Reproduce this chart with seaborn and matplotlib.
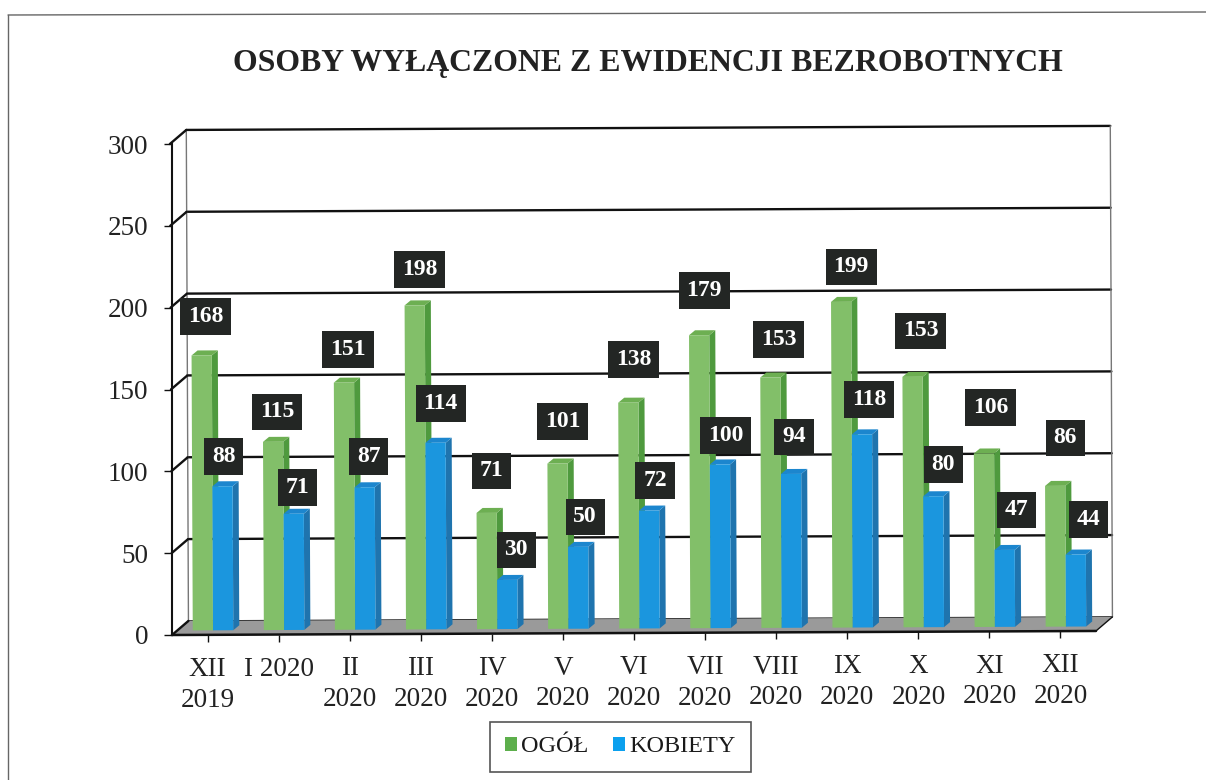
import pandas as pd
import matplotlib.pyplot as plt
import seaborn as sns
from matplotlib.lines import Line2D
from matplotlib.patches import Polygon
from matplotlib.transforms import Affine2D, IdentityTransform

months = ["XII\n2019", "I 2020", "II\n2020", "III\n2020", "IV\n2020", "V\n2020", "VI\n2020",
          "VII\n2020", "VIII\n2020", "IX\n2020", "X\n2020", "XI\n2020", "XII\n2020"]
ogol = [168, 115, 151, 198, 71, 101, 138, 179, 153, 199, 153, 106, 86]
kobiety = [88, 71, 87, 114, 30, 50, 72, 100, 94, 118, 80, 47, 44]
y_ticks = [0, 50, 100, 150, 200, 250, 300]

# where the black value boxes sit relative to the top of their bar, in pixels
ogol_dx = [4, 4, 4, 5, 5, 5, 5, 5, 8, 10, 8, 7, 10]
ogol_dy = [39, 30, 33, 36, 42, 42, 43, 45, 38, 35, 46, 46, 48]
kobiety_dx = [1, 4, 4, 5, 9, 7, 6, 6, 3, 7, 10, 12, 13]
kobiety_dy = [30, 26, 31, 39, 30, 30, 30, 29, 37, 35, 32, 40, 35]

W, H = 1206, 780
GREEN = "#82BF69"
BLUE = "#1B96DE"
faces = {GREEN: ("#6DAF52", "#4F9A3E"), BLUE: ("#1C86CE", "#1F74AE")}

sns.set_theme(style="white")
plt.rcParams["font.family"] = ["Liberation Serif", "DejaVu Serif"]

fig = plt.figure(figsize=(W / 100, H / 100), dpi=100, facecolor="white")
ax = fig.add_axes([172 / W, (H - 635) / H, 924 / W, 491 / H])
ax.patch.set_alpha(0)

df = pd.DataFrame({
    "miesiac": months * 2,
    "liczba": ogol + kobiety,
    "seria": ["OGÓŁ"] * len(months) + ["KOBIETY"] * len(months),
})
sns.barplot(data=df, x="miesiac", y="liczba", hue="seria", palette=[GREEN, BLUE],
            width=0.57, gap=0, saturation=1, linewidth=0, zorder=3, ax=ax)

ax.set_xlim(-0.5, 12.5)
ax.set_ylim(0, 300)
ax.set_yticks(y_ticks)
ax.set_xlabel("")
ax.set_ylabel("")
ax.tick_params(axis="y", length=6, width=1, pad=11, labelsize=19.5, color="#111", labelcolor="#222", left=True)
ax.tick_params(axis="x", length=5, width=1, pad=11, labelsize=19.5, color="#111", labelcolor="#222", bottom=True)
sns.despine(ax=ax, top=True, right=True, bottom=True)
ax.spines["left"].set_linewidth(1.5)
ax.spines["left"].set_color("#111")

# the scanned page is turned slightly, right side up
tilt = Affine2D().rotate_deg_around(172, H - 635, 0.25)
front = ax.transData + tilt
back = ax.transData + Affine2D().translate(16.5, 14) + tilt
bar_tr = ax.transData + Affine2D().translate(5.5, 4.5) + tilt

for tick in ax.xaxis.get_major_ticks():
    tick.tick1line.set_transform(tick.tick1line.get_transform() + tilt)
    tick.label1.set_transform(tick.label1.get_transform() + tilt)
    tick.label1.set_linespacing(1.3)

# floor
corners = [front.transform((-0.5, 0)), front.transform((12.5, 0)),
           back.transform((12.5, 0)), back.transform((-0.5, 0))]
ax.add_patch(Polygon(corners, closed=True, facecolor="#9A9A9A", edgecolor="none",
                     transform=IdentityTransform(), zorder=1.5, clip_on=False))

# back wall and slanted gridlines
for v in y_ticks:
    ax.plot([-0.5, 12.5], [v, v], color="#111", lw=1.7 if v else 1, transform=back, clip_on=False, zorder=1)
    p0, p1 = front.transform((-0.5, v)), back.transform((-0.5, v))
    ax.add_line(Line2D([p0[0], p1[0]], [p0[1], p1[1]], color="#111", lw=1.7,
                       transform=IdentityTransform(), clip_on=False, zorder=2))
for x in [-0.5, 12.5]:
    ax.plot([x, x], [0, 300], color="#777", lw=1, transform=back, clip_on=False, zorder=1)
p0, p1 = front.transform((12.5, 0)), back.transform((12.5, 0))
ax.add_line(Line2D([p0[0], p1[0]], [p0[1], p1[1]], color="#111", lw=1,
                   transform=IdentityTransform(), clip_on=False, zorder=2))
ax.plot([-0.5, 12.5], [0, 0], color="#111", lw=1.8, transform=front, clip_on=False, zorder=2.5)

# 3d faces and value boxes for every bar
bars = list(ax.containers[0]) + list(ax.containers[1])
labels = ogol + kobiety
dxs = ogol_dx + kobiety_dx
dys = ogol_dy + kobiety_dy
for i, (bar, value, dx, dy) in enumerate(zip(bars, labels, dxs, dys)):
    x0, w, h = bar.get_x(), bar.get_width(), bar.get_height()
    color = GREEN if i < len(months) else BLUE
    top_c, side_c = faces[color]
    z = 3 if i < len(months) else 3.2
    bar.set_transform(bar_tr)
    bar.set_zorder(z + 0.05)
    b = bar_tr.transform((x0 + w, 0))
    c = bar_tr.transform((x0 + w, h))
    d = bar_tr.transform((x0, h))
    side = [b, b + (6, 5), c + (6, 5), c]
    top = [d, c, c + (6, 5), d + (6, 5)]
    ax.add_patch(Polygon(side, closed=True, facecolor=side_c, edgecolor="none",
                         transform=IdentityTransform(), zorder=z, clip_on=False))
    ax.add_patch(Polygon(top, closed=True, facecolor=top_c, edgecolor="none",
                         transform=IdentityTransform(), zorder=z, clip_on=False))
    ax.annotate(str(value), xy=(x0 + w / 2, h), xycoords=bar_tr, xytext=(dx, dy),
                textcoords="offset pixels", ha="center", va="center", fontsize=17,
                fontweight="bold", color="white", zorder=5, annotation_clip=False,
                bbox=dict(boxstyle="square,pad=0.33", facecolor="#232624", edgecolor="none"))

sns.move_legend(ax, "center", bbox_to_anchor=(620.5 / W, 1 - 747 / H), bbox_transform=fig.transFigure,
                ncol=2, title=None, frameon=True, fancybox=False, fontsize=17.5, handlelength=0.48,
                handleheight=0.48, handletextpad=0.2, columnspacing=1.0, borderpad=0.6, edgecolor="#555")
leg = ax.get_legend()
leg.get_frame().set_linewidth(1.2)
leg.get_frame().set_alpha(1)
leg.set_zorder(6)
for handle, c in zip(leg.get_patches(), ["#5DAF4C", "#0BA0EE"]):
    handle.set_facecolor(c)
for t in leg.get_texts():
    t.set_color("#1a1a1a")

fig.text(647.5 / W, 1 - 63 / H, "OSOBY WYŁĄCZONE Z EWIDENCJI BEZROBOTNYCH", ha="center", va="center",
         fontsize=22.9, fontweight="bold", color="#222")

# page frame from the scan
fig.add_artist(Line2D([8 / W, 8 / W], [0, 1 - 15 / H], color="#666", lw=1))
fig.add_artist(Line2D([8 / W, 1], [1 - 15 / H, 1 - 12 / H], color="#666", lw=1))

fig.savefig("out.png", dpi=100)
